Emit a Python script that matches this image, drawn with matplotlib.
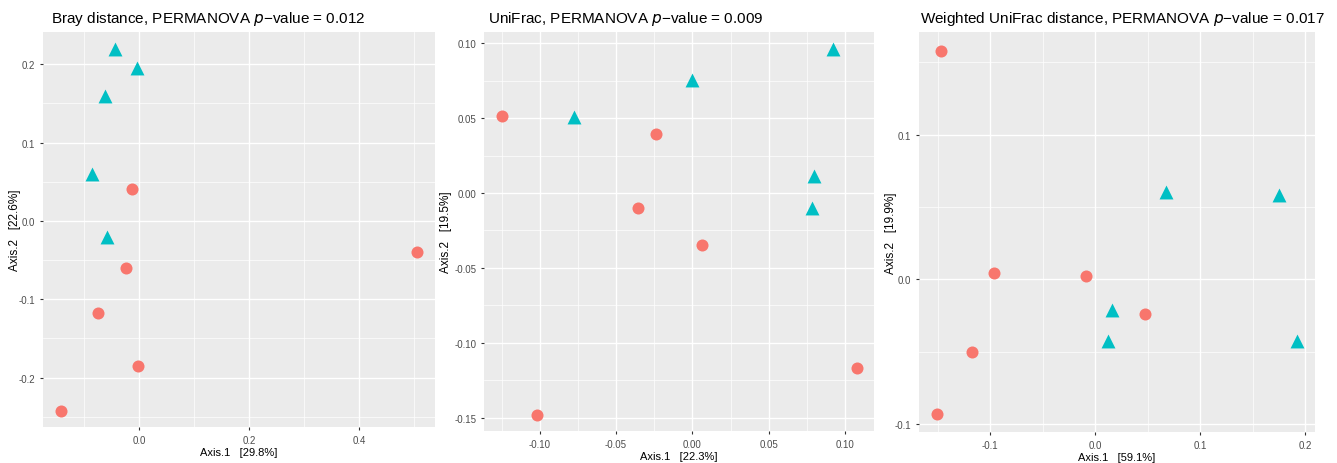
import matplotlib
matplotlib.use("Agg")
import matplotlib.pyplot as plt
from matplotlib.ticker import AutoMinorLocator, FixedLocator
from matplotlib.lines import Line2D

plt.rcParams['font.family'] = ['Liberation Sans', 'DejaVu Sans']

RED = '#F8766D'
CYAN = '#00BFC4'

# Bray distance ordination
bray_circ_x = [-0.013, -0.024, -0.075, -0.002, -0.143, 0.506]
bray_circ_y = [0.041, -0.060, -0.117, -0.185, -0.242, -0.040]
bray_tri_x = [-0.045, -0.005, -0.062, -0.086, -0.059]
bray_tri_y = [0.219, 0.195, 0.159, 0.060, -0.021]

# UniFrac ordination
uni_circ_x = [-0.1249, -0.0238, -0.0356, 0.0061, 0.1076, -0.1015]
uni_circ_y = [0.0513, 0.0391, -0.0103, -0.0348, -0.1172, -0.148]
uni_tri_x = [0.0924, 0.000, -0.0775, 0.0799, 0.0784]
uni_tri_y = [0.096, 0.0752, 0.0511, 0.0116, -0.0103]

# Weighted UniFrac ordination
wuni_circ_x = [-0.1467, -0.0962, -0.0083, 0.0473, -0.1175, -0.1508]
wuni_circ_y = [0.1579, 0.0044, 0.0021, -0.0242, -0.0504, -0.0928]
wuni_tri_x = [0.0676, 0.1752, 0.0159, 0.0121, 0.1924]
wuni_tri_y = [0.0603, 0.058, -0.0214, -0.0428, -0.0428]

panels = [
    dict(title="Bray distance, PERMANOVA $p$\u2212value = 0.012",
         xlab="Axis.1   [29.8%]", ylab="Axis.2   [22.6%]",
         cx=bray_circ_x, cy=bray_circ_y, tx=bray_tri_x, ty=bray_tri_y,
         xlim=(-0.175, 0.538), ylim=(-0.263, 0.241),
         xticks=[0.0, 0.2, 0.4], yticks=[-0.2, -0.1, 0.0, 0.1, 0.2], fmt="{:.1f}",
         pos=[0.0322, 0.0776, 0.2932, 0.851], title_x=0.02, ylab_x=-0.071),
    dict(title="UniFrac, PERMANOVA $p$\u2212value = 0.009",
         xlab="Axis.1   [22.3%]", ylab="Axis.2   [19.5%]",
         cx=uni_circ_x, cy=uni_circ_y, tx=uni_tri_x, ty=uni_tri_y,
         xlim=(-0.1365, 0.119), ylim=(-0.159, 0.1076),
         xticks=[-0.10, -0.05, 0.0, 0.05, 0.10],
         yticks=[-0.15, -0.10, -0.05, 0.0, 0.05, 0.10], fmt="{:.2f}",
         pos=[0.362, 0.069, 0.2917, 0.86], title_x=0.01, ylab_x=-0.097),
    dict(title="Weighted UniFrac distance, PERMANOVA $p$\u2212value = 0.017",
         xlab="Axis.1   [59.1%]", ylab="Axis.2   [19.9%]",
         cx=wuni_circ_x, cy=wuni_circ_y, tx=wuni_tri_x, ty=wuni_tri_y,
         xlim=(-0.1676, 0.2092), ylim=(-0.1054, 0.1708),
         xticks=[-0.1, 0.0, 0.1, 0.2], yticks=[-0.1, 0.0, 0.1], fmt="{:.1f}",
         pos=[0.6874, 0.0668, 0.2962, 0.862], title_x=0.003, ylab_x=-0.071),
]

fig = plt.figure(figsize=(13.37, 4.64), dpi=100)
fig.patch.set_facecolor('white')

for p in panels:
    ax = fig.add_axes(p['pos'])
    ax.set_facecolor('#EBEBEB')
    for s in ax.spines.values():
        s.set_visible(False)
    ax.set_xlim(*p['xlim'])
    ax.set_ylim(*p['ylim'])
    ax.xaxis.set_major_locator(FixedLocator(p['xticks']))
    ax.yaxis.set_major_locator(FixedLocator(p['yticks']))
    ax.set_xticklabels([p['fmt'].format(v) for v in p['xticks']])
    ax.set_yticklabels([p['fmt'].format(v) for v in p['yticks']])
    ax.xaxis.set_minor_locator(AutoMinorLocator(2))
    ax.yaxis.set_minor_locator(AutoMinorLocator(2))
    ax.grid(which='major', color='white', linewidth=1.0)
    ax.grid(which='minor', color='white', linewidth=0.5)
    ax.set_axisbelow(True)
    ax.tick_params(which='major', length=2.5, color='#333333', labelsize=7,
                   labelcolor='#4D4D4D', pad=3)
    ax.tick_params(axis='y', which='major', pad=3)
    ax.tick_params(which='minor', length=0)
    ax.scatter(p['cx'], p['cy'], s=75, marker='o', color=RED, linewidths=0, zorder=3)
    ax.scatter(p['tx'], p['ty'], s=100, marker='^', color=CYAN, linewidths=0, zorder=3)
    ax.set_xlabel(p['xlab'], fontsize=8, labelpad=2)
    ax.set_ylabel(p['ylab'], fontsize=8.5, va='center')
    ax.yaxis.set_label_coords(p['ylab_x'], 0.5)
    ax.set_title(p['title'], loc='left', fontsize=11, pad=7, x=p['title_x'])

# legend mostly cut off at right edge, as in the reference
handles = [Line2D([], [], marker='o', color=RED, linestyle='', markersize=8),
           Line2D([], [], marker='^', color=CYAN, linestyle='', markersize=9)]
fig.legend(handles, ['Control', 'Treated'], title='Treatment',
           loc='upper left', bbox_to_anchor=(1331 / 1337, 1 - 200 / 464),
           frameon=False, fontsize=8, title_fontsize=8, alignment='left')

fig.savefig('out.png', dpi=100)
